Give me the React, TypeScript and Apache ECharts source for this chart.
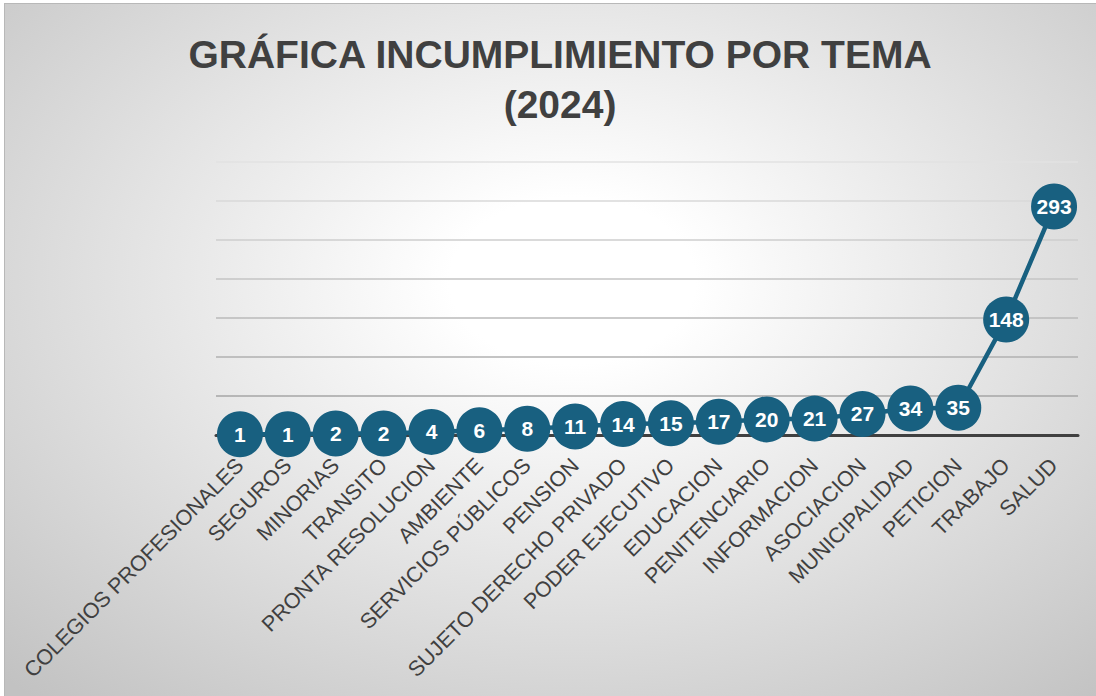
import React, { useEffect, useRef } from "react";
import * as echarts from "echarts";

const categories = [
  "COLEGIOS PROFESIONALES",
  "SEGUROS",
  "MINORIAS",
  "TRANSITO",
  "PRONTA RESOLUCION",
  "AMBIENTE",
  "SERVICIOS PÚBLICOS",
  "PENSION",
  "SUJETO DERECHO PRIVADO",
  "PODER EJECUTIVO",
  "EDUCACION",
  "PENITENCIARIO",
  "INFORMACION",
  "ASOCIACION",
  "MUNICIPALIDAD",
  "PETICION",
  "TRABAJO",
  "SALUD",
];

const values = [1, 1, 2, 2, 4, 6, 8, 11, 14, 15, 17, 20, 21, 27, 34, 35, 148, 293];

const titleLines = ["GRÁFICA INCUMPLIMIENTO POR TEMA", "(2024)"];

const gridColors = ["#a6a6a6", "#a6a6a6", "#b0b0b0", "#bababa", "#c4c4c4", "#cecece", "#d8d8d8", "#e2e2e2"];

export default function App() {
  const ref = useRef<HTMLDivElement>(null);

  useEffect(() => {
    if (!ref.current) return;
    const chart = echarts.init(ref.current, undefined, { renderer: "svg" });
    const font = "'Liberation Sans', Arial, sans-serif";
    chart.setOption({
      animation: false,
      backgroundColor: "transparent",
      graphic: [
        {
          type: "text",
          x: 556,
          y: 51,
          style: {
            text: titleLines[0],
            font: `bold 39px ${font}`,
            fill: "#404040",
            textAlign: "center",
            textVerticalAlign: "middle",
          },
        },
        {
          type: "text",
          x: 556,
          y: 101,
          style: {
            text: titleLines[1],
            font: `bold 39px ${font}`,
            fill: "#404040",
            textAlign: "center",
            textVerticalAlign: "middle",
          },
        },
      ],
      grid: { left: 212, right: 18, top: 159, bottom: 261 },
      xAxis: {
        type: "category",
        data: categories,
        boundaryGap: true,
        axisTick: { show: false },
        axisLine: { lineStyle: { color: "#404040", width: 3 } },
        axisLabel: {
          interval: 0,
          rotate: 45,
          margin: 27,
          fontSize: 21.5,
          color: "#404040",
          fontFamily: font,
        },
        z: 3,
      },
      yAxis: {
        type: "value",
        min: 0,
        max: 350,
        interval: 50,
        axisLabel: { show: false },
        axisLine: { show: false },
        axisTick: { show: false },
        splitLine: { lineStyle: { color: gridColors, width: 1.5 } },
      },
      series: [
        {
          type: "line",
          data: values,
          symbol: "circle",
          symbolSize: 46,
          itemStyle: { color: "#186080" },
          lineStyle: { color: "#186080", width: 4.5 },
          label: {
            show: true,
            position: "inside",
            color: "#ffffff",
            fontWeight: "bold",
            fontSize: 21,
            fontFamily: font,
          },
          z: 5,
        },
      ],
    });
    return () => chart.dispose();
  }, []);

  return (
    <div
      style={{
        position: "fixed",
        left: 0,
        top: 0,
        width: 1096,
        height: 696,
        background: "#ffffff",
        overflow: "hidden",
      }}
    >
      <div
        style={{
          position: "absolute",
          left: 4,
          top: 3,
          width: 1092,
          height: 693,
          boxSizing: "border-box",
          borderLeft: "1px solid #b8b8b8",
          borderTop: "1px solid #b8b8b8",
          background:
            "radial-gradient(ellipse 75% 80% at 52% 40%, #ffffff 0%, #ffffff 15%, #c2c2c2 100%)",
        }}
      >
        <div ref={ref} style={{ position: "absolute", left: -1, top: -1, width: 1092, height: 693 }} />
      </div>
    </div>
  );
}
